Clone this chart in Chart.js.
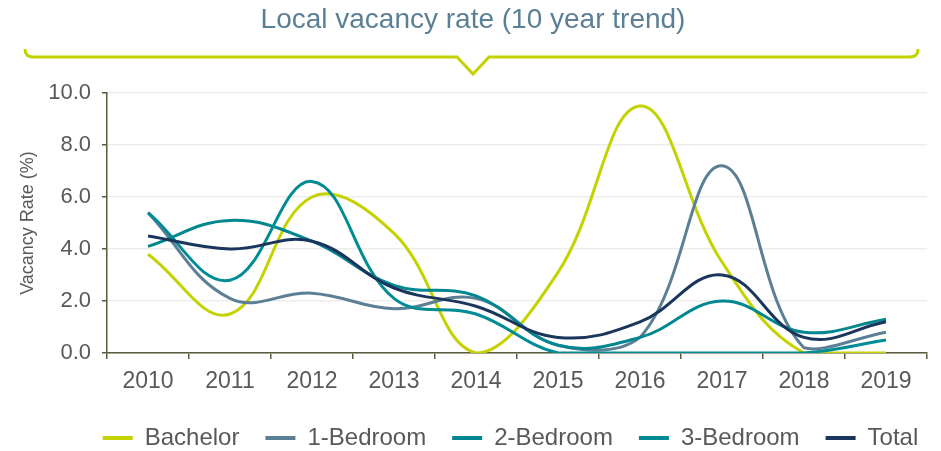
<!DOCTYPE html>
<html>
<head>
<meta charset="utf-8">
<script src="https://cdn.jsdelivr.net/npm/chart.js@4.4.0/dist/chart.umd.min.js"></script>
<style>
html,body{margin:0;padding:0;background:#ffffff;}
#wrap{position:relative;width:941px;height:451px;}
</style>
</head>
<body>
<div id="wrap"><canvas id="c"></canvas></div>
<script>
// ---- data ----
const years = ['2010','2011','2012','2013','2014','2015','2016','2017','2018','2019'];
const bachelor  = [3.8, 1.5, 6.0, 4.6, 0.0, 3.1, 9.5, 3.5, 0.0, 0.0];
const oneBed    = [5.4, 2.1, 2.3, 1.7, 2.1, 0.3, 0.6, 7.2, 0.2, 0.8];
const twoBed    = [4.1, 5.1, 4.3, 2.6, 2.2, 0.3, 0.6, 2.0, 0.8, 1.3];
const threeBed  = [5.4, 2.8, 6.6, 2.1, 1.5, 0.0, 0.0, 0.0, 0.0, 0.5];
const total     = [4.5, 4.0, 4.3, 2.5, 1.8, 0.6, 1.2, 3.0, 0.6, 1.2];
const seriesNames = ['Bachelor','1-Bedroom','2-Bedroom','3-Bedroom','Total'];
const yMin = 0, yMax = 10, yStep = 1, yLabelEvery = 2;
const chartTitle = 'Local vacancy rate (10 year trend)';
const yAxisTitle = 'Vacancy Rate (%)';

// ---- styles ----
const colors = ['#C4D300','#5B7F95','#00878F','#008C95','#1B365D'];
const textGray = '#595959';
const axisColor = '#5A5A3C';
const FONT = '"Liberation Sans", Arial, sans-serif';
const legendFont = 24, legendPad = 26, legendShift = 47;

const headerPlugin = {
  id: 'header',
  afterDraw(chart) {
    const ctx = chart.ctx;
    ctx.save();
    ctx.fillStyle = '#5B7F95';
    ctx.font = '28px ' + FONT;
    ctx.textAlign = 'center';
    ctx.textBaseline = 'middle';
    ctx.fillText(chartTitle, 473, 20);
    ctx.strokeStyle = '#C4D300';
    ctx.lineWidth = 3;
    ctx.lineJoin = 'miter';
    ctx.beginPath();
    ctx.moveTo(25, 49);
    ctx.quadraticCurveTo(25, 57, 33, 57);
    ctx.lineTo(457, 57);
    ctx.lineTo(473, 74);
    ctx.lineTo(489, 57);
    ctx.lineTo(910, 57);
    ctx.quadraticCurveTo(918, 57, 918, 49);
    ctx.stroke();
    ctx.restore();
  }
};

const legendFitPlugin = {
  id: 'legendFit',
  beforeInit(chart) {
    const lg = chart.legend;
    if (!lg) return;
    const orig = lg.fit;
    lg.fit = function() {
      orig.call(this);
      this.height = 451 - (438 - legendPad - legendFont / 2);
    };
  },
  afterLayout(chart) {
    const lg = chart.legend;
    if (!lg) return;
    lg.left += legendShift;
    lg.right += legendShift;
  }
};

const seriesData = [bachelor, oneBed, twoBed, threeBed, total];
const datasets = seriesNames.map((name, i) => ({
  label: name,
  data: seriesData[i],
  borderColor: colors[i],
  backgroundColor: colors[i],
  borderWidth: 3,
  pointRadius: 0,
  pointHoverRadius: 0,
  tension: 0.4,
  fill: false,
  order: seriesNames.length - i
}));

new Chart(document.getElementById('c'), {
  type: 'line',
  data: { labels: years, datasets },
  plugins: [legendFitPlugin, headerPlugin],
  options: {
    responsive: true,
    maintainAspectRatio: false,
    animation: false,
    layout: { padding: { top: 93, left: 0, right: 14, bottom: 0 } },
    plugins: {
      title: { display: false },
      tooltip: { enabled: false },
      legend: {
        position: 'bottom',
        labels: {
          boxWidth: 30,
          boxHeight: 4,
          padding: legendPad,
          color: textGray,
          font: { size: legendFont, family: FONT },
          generateLabels(chart) {
            return chart.data.datasets.map((ds, i) => ({
              text: ds.label,
              fillStyle: ds.borderColor,
              strokeStyle: ds.borderColor,
              lineWidth: 0,
              hidden: false,
              datasetIndex: i,
              fontColor: textGray
            }));
          }
        }
      }
    },
    scales: {
      x: {
        type: 'category',
        offset: true,
        afterFit(scale) { scale.height = (438 - legendPad - legendFont / 2) - 353; },
        grid: { offset: true, drawOnChartArea: false, drawTicks: true, tickLength: 6, tickColor: axisColor, lineWidth: 1.5 },
        border: { color: axisColor, width: 1.5 },
        ticks: { color: textGray, font: { size: 23, family: FONT }, padding: 9, maxRotation: 0 }
      },
      y: {
        min: yMin,
        max: yMax,
        afterFit(scale) { scale.width = 107; },
        grid: { color: '#EDEDED', lineWidth: 1.5, drawTicks: true, tickLength: 5, tickColor: axisColor },
        border: { color: axisColor, width: 1.5 },
        ticks: {
          stepSize: yStep,
          color: textGray,
          font: { size: 22, family: FONT },
          padding: 11,
          callback: (v) => (Math.round(v) % yLabelEvery === 0 ? Number(v).toFixed(1) : '')
        },
        title: {
          display: true,
          text: yAxisTitle,
          color: textGray,
          font: { size: 18, family: FONT },
          padding: { top: 17, bottom: 0 }
        }
      }
    }
  }
});
</script>
</body>
</html>
